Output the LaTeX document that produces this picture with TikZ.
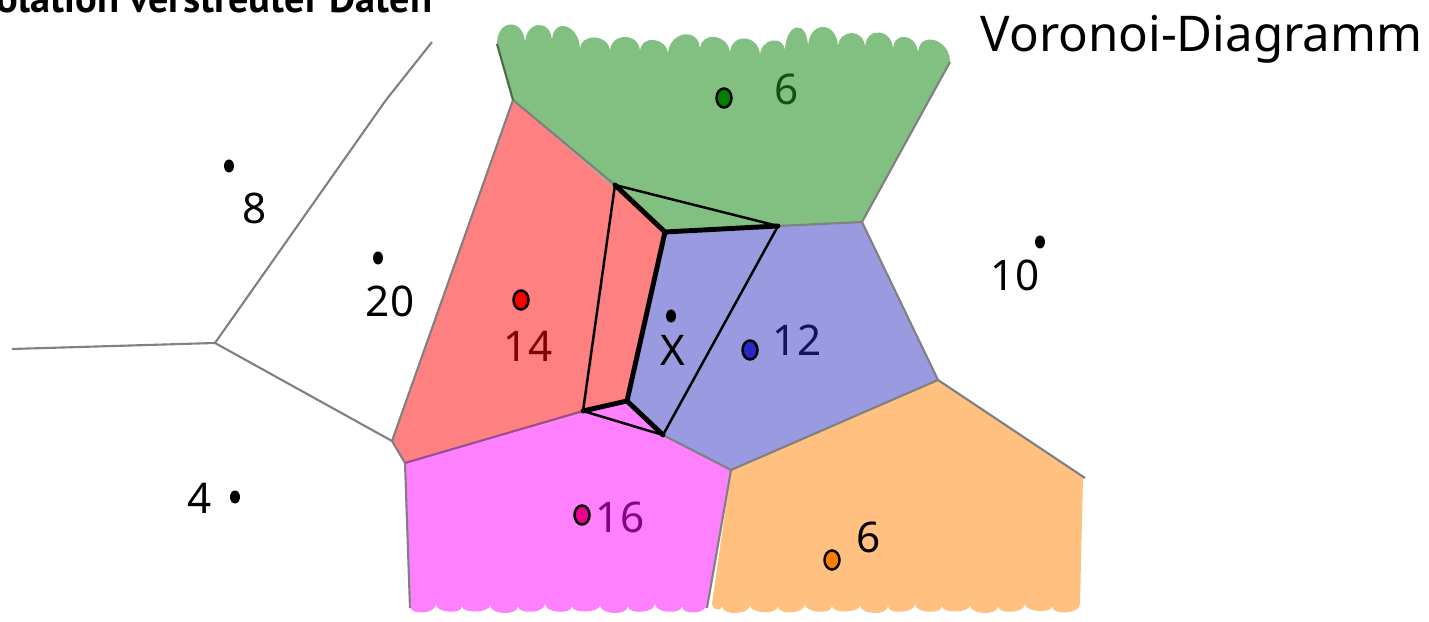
\documentclass[tikz,border=0pt]{standalone}
\usepackage{fontspec}
\setmainfont{Noto Sans}
\newfontfamily\titlefont{PT Sans}
\usetikzlibrary{positioning,shapes.geometric}
\definecolor{cellgreen}{RGB}{130,192,130}
\definecolor{cellred}{RGB}{255,128,128}
\definecolor{cellblue}{RGB}{154,154,224}
\definecolor{cellpink}{RGB}{255,128,255}
\definecolor{cellorange}{RGB}{255,192,128}
\definecolor{edgegray}{RGB}{128,128,128}
\begin{document}
\begin{tikzpicture}[x=0.01cm,y=-0.01cm,
  vedge/.style={edgegray,line width=0.6pt},
  oldedge/.style={black,line width=1.4pt,line cap=round,line join=round},
  newcell/.style={black,line width=0.7pt,line join=round},
  seed/.style={ellipse,draw=black,line width=0.7pt,minimum width=0.15cm,minimum height=0.19cm,inner sep=0pt},
  bseed/.style={ellipse,fill=black,minimum width=0.1cm,minimum height=0.13cm,inner sep=0pt},
  val/.style={font=\fontsize{12}{12}\selectfont,inner sep=0pt}]
\useasboundingbox (0,0) rectangle (1429,622);
\coordinate (a) at (215,343);
\coordinate (b) at (392,441);
\coordinate (c) at (405,463);
\coordinate (v1) at (513,100);
\coordinate (v2) at (665,232);
\coordinate (v3) at (862,222);
\coordinate (v4) at (938,380);
\coordinate (v5) at (731,470);
\coordinate (v6) at (627,401);
\coordinate (q1) at (615,185);
\coordinate (q2) at (778,226);
\coordinate (q3) at (663,435);
\coordinate (q4) at (583,411);
\fill[cellgreen] (v1) -- (497,44) \foreach \x/\y/\h in {525/44/26,552/42/24,580/50/26,610/52/18,640/52/20,668/55/18,700/50/24,730/54/20,760/56/22,785/52/18,808/48/30,838/48/28,865/48/20,893/50/22,918/54/20,950/62/24} { .. controls +(0,-\h) and +(0,-\h) .. (\x,\y)} -- (v3) -- (v2) -- cycle;
\fill[cellred] (v1) -- (v2) -- (v6) -- (c) -- (b) -- cycle;
\fill[cellblue] (v2) -- (v3) -- (v4) -- (v5) -- (q3) -- (v6) -- cycle;
\fill[cellpink] (c) -- (v6) -- (q3) -- (v5) -- (707,604) \foreach \x/\y/\h in {682/606/10,655/604/9,628/606/9,600/605/10,572/606/8,545/604/9,518/606/9,490/605/10,462/606/8,436/604/9,410/606/10} { .. controls +(0,\h) and +(0,\h) .. (\x,\y)} -- cycle;
\fill[cellorange] (v5) -- (v4) -- (1083,478) -- (1080,604) \foreach \x/\y/\h in {1052/606/10,1025/604/8,998/606/9,970/605/10,942/606/8,915/604/9,888/606/9,860/605/10,832/606/8,805/604/9,778/606/10,750/605/9,722/606/10,712/604/6} { .. controls +(0,\h) and +(0,\h) .. (\x,\y)} -- cycle;
\draw[vedge] (12,349) -- (a) -- (386,100) -- (432,42);
\draw[vedge] (a) -- (b) -- (c) -- (410,608);
\draw[vedge] (b) -- (v1) -- (q1);
\draw[vedge,cellgreen!55!black] (v1) -- (497,44);
\draw[vedge] (q2) -- (v3) -- (950,62);
\draw[vedge] (v3) -- (v4) -- (1085,478);
\draw[vedge] (v4) -- (v5) -- (707,608);
\draw[vedge] (v5) -- (q3);
\draw[vedge,cellpink!60!black] (c) -- (q4);
\draw[oldedge] (q1) -- (v2) -- (q2);
\draw[oldedge] (v2) -- (v6) -- (q4);
\draw[oldedge] (v6) -- (q3);
\draw[newcell] (q1) -- (q2) -- (q3) -- (q4) -- cycle;
\node[seed,fill={rgb,255:red,0;green,128;blue,0}] (s6a) at (724,98) {};
\node[val,text={rgb,255:red,20;green,80;blue,20}] (l6a) at (787,89) {6};
\node[bseed] (s8) at (229,166) {};
\node[val] (l8) at (255,208) {8};
\node[bseed] (s20) at (378,258) {};
\node[val] (l20) at (390,301) {20};
\node[seed,fill=red] (s14) at (521,300) {};
\node[val,text={rgb,255:red,130;green,0;blue,0}] (l14) at (528,346) {14};
\node[bseed] (sx) at (671,316) {};
\node[val] (lx) at (673,350) {X};
\node[seed,fill={rgb,255:red,40;green,40;blue,200}] (s12) at (750,350) {};
\node[val,text={rgb,255:red,20;green,20;blue,90}] (l12) at (797,340) {12};
\node[bseed] (s10) at (1040,242) {};
\node[val] (l10) at (1015,275) {10};
\node[bseed] (s4) at (235,497) {};
\node[val] (l4) at (200,498) {4};
\node[seed,fill=magenta] (s16) at (582,515) {};
\node[val,text={rgb,255:red,130;green,0;blue,130}] (l16) at (620,517) {16};
\node[seed,fill={rgb,255:red,255;green,128;blue,0}] (s6b) at (832,560) {};
\node[val] (l6b) at (869,537) {6};
\node[anchor=base west,font=\fontsize{14}{14}\selectfont,inner sep=0pt] (heading) at (980,52) {Voronoi-Diagramm};
\begin{scope}
\clip (0,0) rectangle (1429,622);
\node[anchor=base east,font=\titlefont\bfseries\fontsize{11.5}{11.5}\selectfont,inner sep=0pt] (title) at (433,13) {Interpolation verstreuter Daten};
\end{scope}
\end{tikzpicture}
\end{document}
